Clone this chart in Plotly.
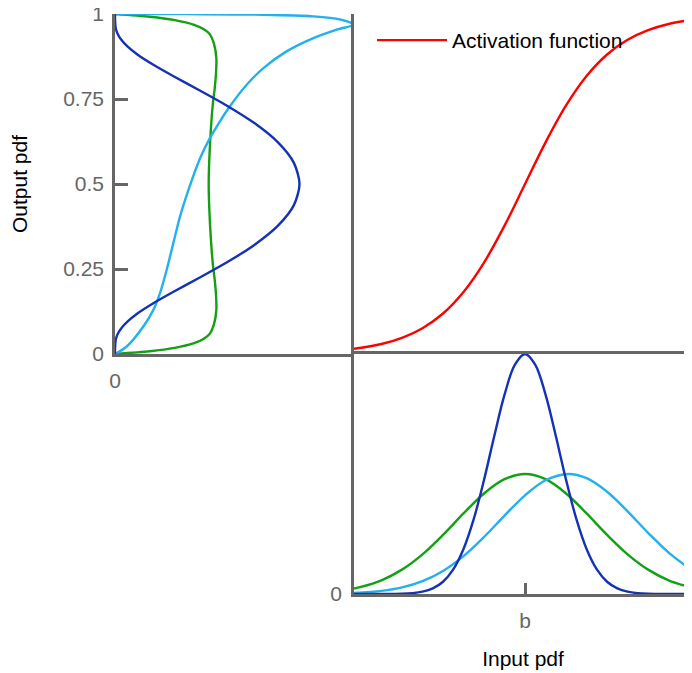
import plotly.graph_objects as go

# ---------------- data ----------------
# Input axis (b = 0)
sig_x = [-4.17, -3.5, -3, -2.5, -2, -1.5, -1, -0.5, 0, 0.5, 1, 1.5, 2, 2.5, 3, 3.5, 4.07]
sig_y = [0.0152, 0.0293, 0.0474, 0.0759, 0.1192, 0.1824, 0.2689, 0.3775, 0.5,
         0.6225, 0.7311, 0.8176, 0.8808, 0.9241, 0.9526, 0.9707, 0.9832]

in_blue_x = [-4.17, -3.5, -3, -2.75, -2.5, -2.25, -2, -1.75, -1.5, -1.25, -1, -0.75, -0.5, -0.25, 0,
             0.25, 0.5, 0.75, 1, 1.25, 1.5, 1.75, 2, 2.25, 2.5, 2.75, 3, 3.5, 4.07]
in_blue_y = [0, 0.0001, 0.0012, 0.0036, 0.0096, 0.0232, 0.0511, 0.1026, 0.1877, 0.3129, 0.4754, 0.6582, 0.8304, 0.9546, 1,
             0.9546, 0.8304, 0.6582, 0.4754, 0.3129, 0.1877, 0.1026, 0.0511, 0.0232, 0.0096, 0.0036, 0.0012, 0.0001, 0]

in_green_x = [-4.17, -4, -3.5, -3, -2.5, -2, -1.5, -1, -0.5, 0, 0.5, 1, 1.5, 2, 2.5, 3, 3.5, 4, 4.07]
in_green_y = [0.023, 0.0294, 0.0571, 0.1015, 0.1652, 0.2462, 0.3356, 0.4189, 0.4783, 0.5,
              0.4783, 0.4189, 0.3356, 0.2462, 0.1652, 0.1015, 0.0571, 0.0294, 0.0266]

in_light_x = [-4.17, -3.5, -3, -2.5, -2, -1.5, -1, -0.5, 0, 0.5, 1.05, 1.5, 2, 2.5, 3, 3.5, 4.07]
in_light_y = [0.004, 0.0128, 0.0274, 0.0537, 0.0962, 0.158, 0.2375, 0.3267, 0.4113, 0.4739, 0.5,
              0.4824, 0.4261, 0.3445, 0.255, 0.1727, 0.0994]

# Output pdfs (pdf value, output level)
out_blue_x = [0, 0.0002, 0.0021, 0.0051, 0.0123, 0.0264, 0.052, 0.0937, 0.157, 0.2429, 0.349, 0.4667, 0.583, 0.682, 0.7485, 0.772,
              0.7485, 0.682, 0.583, 0.4667, 0.349, 0.2429, 0.157, 0.0937, 0.052, 0.0264, 0.0123, 0.0051, 0.0021, 0.0002, 0]
out_blue_y = [0, 0.0152, 0.0373, 0.0474, 0.0601, 0.0759, 0.0953, 0.1192, 0.148, 0.1824, 0.2227, 0.2689, 0.3208, 0.3775, 0.4378, 0.5,
              0.5622, 0.6225, 0.6792, 0.7311, 0.7773, 0.8176, 0.852, 0.8808, 0.9047, 0.9241, 0.9399, 0.9526, 0.9627, 0.9848, 1]

out_green_x = [0, 0.146, 0.25, 0.328, 0.372, 0.397, 0.415, 0.424, 0.423, 0.417, 0.41, 0.402, 0.395, 0.392,
               0.395, 0.402, 0.41, 0.417, 0.423, 0.424, 0.415, 0.397, 0.372, 0.328, 0.25, 0.146, 0]
out_green_y = [0, 0.008, 0.018, 0.031, 0.045, 0.06, 0.09, 0.13, 0.17, 0.22, 0.26, 0.33, 0.42, 0.5,
               0.58, 0.67, 0.74, 0.78, 0.83, 0.87, 0.91, 0.94, 0.955, 0.969, 0.982, 0.992, 1]

out_light_x = [0, 0.049, 0.118, 0.16, 0.188, 0.216, 0.244, 0.272, 0.307, 0.356, 0.397, 0.439, 0.474, 0.551,
               0.621, 0.718, 0.83, 0.928, 1.0, 0.941, 0.83, 0.621, 0.3, 0]
out_light_y = [0, 0.022, 0.08, 0.129, 0.178, 0.247, 0.326, 0.404, 0.482, 0.576, 0.635, 0.684, 0.722, 0.792,
               0.841, 0.89, 0.929, 0.954, 0.969, 0.984, 0.993, 0.998, 0.9995, 1]

out_ticks = [0, 0.25, 0.5, 0.75, 1]
out_tick_labels = ["0", "0.25", "0.5", "0.75", "1"]

# ---------------- style ----------------
C_DARK = "#1432b4"
C_GREEN = "#14a014"
C_LIGHT = "#22b0ee"
C_RED = "#ff0000"
GRAY = "#666666"
FONT = "Liberation Sans, Arial, Helvetica, sans-serif"
LW = 2.4

# page body adds an 8px offset; the figure is sized to end at the window edge
OFF = 8
W, H = 692 - OFF, 673 - OFF
def px(v):
    return (v - OFF) / W
def py(v):
    return 1 - (v - OFF) / H

fig = go.Figure()

# left panel: output pdfs
for xs, ys, c in [(out_green_x, out_green_y, C_GREEN), (out_light_x, out_light_y, C_LIGHT), (out_blue_x, out_blue_y, C_DARK)]:
    fig.add_trace(go.Scatter(x=xs, y=ys, mode="lines", line=dict(color=c, width=LW, shape="spline", smoothing=0.8),
                             xaxis="x", yaxis="y", showlegend=False, hoverinfo="skip"))

# top-right: activation function
fig.add_trace(go.Scatter(x=sig_x, y=sig_y, mode="lines", name="Activation function",
                         line=dict(color=C_RED, width=LW, shape="spline"), xaxis="x2", yaxis="y2"))

# bottom-right: input pdfs
for xs, ys, c in [(in_green_x, in_green_y, C_GREEN), (in_light_x, in_light_y, C_LIGHT), (in_blue_x, in_blue_y, C_DARK)]:
    fig.add_trace(go.Scatter(x=xs, y=ys, mode="lines", line=dict(color=c, width=LW, shape="spline"),
                             xaxis="x2", yaxis="y3", showlegend=False, hoverinfo="skip"))

axis_common = dict(showgrid=False, zeroline=False, linecolor=GRAY, linewidth=2.5, automargin=False,
                   ticklabeloverflow="allow",
                   tickfont=dict(family=FONT, size=21, color=GRAY), tickcolor=GRAY, tickwidth=2.5)

fig.update_layout(
    template="none",
    width=W, height=H,
    margin=dict(l=0, r=0, t=0, b=0, pad=0),
    paper_bgcolor="white", plot_bgcolor="white",
    font=dict(family=FONT, size=21, color="black"),
    showlegend=True,
    legend=dict(x=px(372), y=py(20), xanchor="left", yanchor="top", itemwidth=70,
                font=dict(family=FONT, size=21, color="black"), bgcolor="rgba(0,0,0,0)"),
    xaxis=dict(domain=[px(115), px(354)], range=[0, 1], anchor="y", showline=True,
               tickvals=[0], ticktext=["0"], ticks="", ticklabelstandoff=6, **axis_common),
    yaxis=dict(domain=[py(354), py(14)], range=[0, 1], anchor="x", showline=True,
               tickvals=out_ticks, ticktext=out_tick_labels, ticks="inside", ticklen=13,
               ticklabelstandoff=4,
               title=dict(text="Output pdf", font=dict(family=FONT, size=21, color="black"), standoff=34),
               **axis_common),
    xaxis2=dict(domain=[px(354), 1], range=[-4.17, 4.07], anchor="y3", showline=True, mirror=True,
                tickvals=[0], ticktext=["b"], ticks="inside", ticklen=11, ticklabelstandoff=6,
                title=dict(text="Input pdf", font=dict(family=FONT, size=21, color="black"), standoff=21),
                **axis_common),
    yaxis2=dict(domain=[py(354), py(14)], range=[0, 1], anchor="x2", showline=True,
                showticklabels=False, ticks="", **axis_common),
    yaxis3=dict(domain=[py(594), py(354)], range=[0, 1], anchor="x2", showline=True,
                tickvals=[0], ticktext=["0"], ticks="", ticklabelstandoff=5, **axis_common),
)

fig.write_html("out.html")
